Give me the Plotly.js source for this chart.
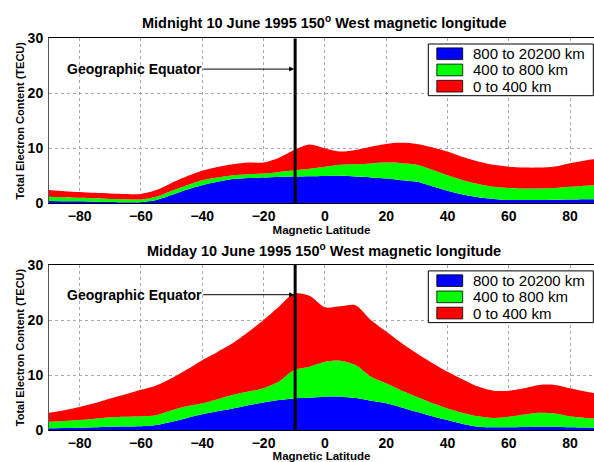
<!DOCTYPE html>
<html><head><meta charset="utf-8">
<script src="https://cdn.plot.ly/plotly-3.0.1.min.js"></script>
<style>body{margin:0;background:#fff}#c{width:594px;height:462px}</style>
</head><body><div id="c"></div>
<script>
const lat = [-90,-85,-80,-75,-70,-65,-60,-55,-50,-45,-40,-35,-30,-25,-20,-15,-10,-5,0,5,10,15,20,25,30,35,40,45,50,55,60,65,70,75,80,85,88];

// Midnight: cumulative layer tops (TECU)
const nightBlue  = [0.4,0.38,0.35,0.3,0.25,0.2,0.2,0.6,1.5,2.5,3.3,3.9,4.4,4.6,4.7,4.8,4.85,4.9,4.95,5.0,4.85,4.7,4.5,4.2,3.9,3.1,2.3,1.6,1.1,0.8,0.6,0.6,0.6,0.65,0.7,0.75,0.75];
const nightGreen = [1.2,1.1,1.0,0.9,0.8,0.75,0.7,1.2,2.3,3.3,4.2,4.7,5.1,5.3,5.4,5.7,6.0,6.3,6.65,7.0,7.1,7.25,7.4,7.3,7.0,6.1,5.1,4.2,3.5,3.0,2.8,2.7,2.7,2.8,3.0,3.2,3.3];
const nightRed   = [2.4,2.2,2.05,1.9,1.8,1.7,1.7,2.4,3.7,4.9,5.9,6.6,7.1,7.4,7.4,8.3,9.7,10.7,10.0,9.4,9.7,10.3,10.8,11.0,10.8,10.2,9.4,8.4,7.6,7.0,6.65,6.5,6.5,6.7,7.3,7.8,8.0];

// Midday: cumulative layer tops (TECU)
const dayBlue  = [0.3,0.35,0.4,0.5,0.6,0.65,0.7,0.9,1.5,2.2,2.85,3.4,3.9,4.5,5.0,5.45,5.75,5.85,6.05,6.05,5.8,5.3,4.85,4.1,3.3,2.5,1.8,1.1,0.6,0.5,0.5,0.55,0.6,0.6,0.5,0.45,0.4];
const dayGreen = [1.5,1.65,1.8,2.05,2.3,2.4,2.5,2.7,3.6,4.3,4.85,5.6,6.4,7.0,7.6,8.8,10.9,11.5,12.4,12.6,11.8,9.7,8.5,7.2,6.05,4.9,3.9,3.1,2.5,2.2,2.4,2.8,3.15,3.0,2.5,2.2,2.1];
const dayRed   = [3.15,3.6,4.2,4.9,5.75,6.5,7.3,8.1,9.4,11.0,12.7,14.2,15.8,17.8,20.0,22.4,24.8,24.4,22.3,22.5,22.7,20.0,17.9,15.8,13.9,12.2,10.6,9.2,7.9,7.15,7.15,7.6,8.2,8.2,7.6,7.0,6.7];

const layerNames = ['800 to 20200 km','400 to 800 km','0 to 400 km'];
const layerColors = ['#0000ff','#00ff00','#ff0000'];
const xTicks = [-80,-60,-40,-20,0,20,40,60,80];
const yTicks = [0,10,20,30];
const equatorLat = -9.7;
const titles = ['Midnight 10 June 1995 150<sup>o</sup> West magnetic longitude','Midday 10 June 1995 150<sup>o</sup> West magnetic longitude'];
const equatorLabel = 'Geographic Equator';

const W = 594, H = 462, ML = 49, MR = 0;
const FONT = 'Liberation Sans, Arial, sans-serif';
const px2x = p => (p - ML) / (W - ML - MR);
const py2y = p => 1 - p / H;

const traces = [];
function addSet(tops, xa, ya){
  tops.forEach((t,i)=>{
    traces.push({x:lat, y:t, xaxis:xa, yaxis:ya, type:'scatter', mode:'lines',
      name:layerNames[i], showlegend:false,
      line:{width:0, shape:'spline', smoothing:0.8, color:layerColors[i]},
      fill: i===0 ? 'tozeroy' : 'tonexty', fillcolor:layerColors[i],
      hoverinfo:'skip'});
  });
}
addSet([nightBlue,nightGreen,nightRed],'x','y');
addSet([dayBlue,dayGreen,dayRed],'x2','y2');

const tickFont = {family:FONT, size:14, color:'#000', weight:'bold'};
function xax(anchor){return {anchor:anchor, range:[-90,87.8], tickvals:xTicks, showgrid:true,
  gridcolor:'#aaaaaa', griddash:'dot', gridwidth:1, showline:true, linecolor:'#000', mirror:true,
  ticks:'', tickfont:tickFont, zeroline:false, fixedrange:true,
  title:{text:'Magnetic Latitude', font:{family:FONT,size:11.5,color:'#000',weight:'bold'}, standoff:2}};}
function yax(anchor, dom){return {anchor:anchor, domain:dom, range:[0,30], tickvals:yTicks, showgrid:true,
  gridcolor:'#aaaaaa', griddash:'dot', gridwidth:1, showline:true, linecolor:'#555',
  ticks:'', tickfont:tickFont, zeroline:false, ticklabelstandoff:2,
  title:{text:'Total Electron Content (TECU)', font:{family:FONT,size:11,color:'#000',weight:'bold'}, standoff:0}};}

const annFont = {family:FONT, size:14.5, color:'#000', weight:'bold'};
const shapes = [
  {type:'line', xref:'x', yref:'y', x0:equatorLat, x1:equatorLat, y0:0, y1:30, line:{color:'#000', width:3}},
  {type:'line', xref:'x2', yref:'y2', x0:equatorLat, x1:equatorLat, y0:0, y1:30, line:{color:'#000', width:3}}
];
const annotations = [
  {xref:'paper', yref:'paper', x:px2x(323.5), y:py2y(22.5), text:titles[0], showarrow:false, font:annFont, xanchor:'center', yanchor:'middle'},
  {xref:'paper', yref:'paper', x:px2x(323.5), y:py2y(250), text:titles[1], showarrow:false, font:annFont, xanchor:'center', yanchor:'middle'},
  {xref:'x', yref:'y', x:equatorLat, y:24.4, axref:'x', ayref:'y', ax:-62.2, ay:24.4, text:equatorLabel,
    showarrow:true, arrowhead:2, arrowsize:1, arrowwidth:1, arrowcolor:'#000', font:{family:FONT,size:14,color:'#000',weight:'bold'}, standoff:1},
  {xref:'x2', yref:'y2', x:equatorLat, y:24.6, axref:'x2', ayref:'y2', ax:-62.2, ay:24.6, text:equatorLabel,
    showarrow:true, arrowhead:2, arrowsize:1, arrowwidth:1, arrowcolor:'#000', font:{family:FONT,size:14,color:'#000',weight:'bold'}, standoff:1}
];

// custom legend boxes (layout only)
function addLegend(top){
  shapes.push({type:'rect', xref:'paper', yref:'paper', x0:px2x(428.3), x1:px2x(593.3), y0:py2y(top), y1:py2y(top+51.7),
    line:{color:'#000', width:1}, fillcolor:'#fff', layer:'above'});
  [0,1,2].forEach(i=>{
    const sTop = top + 3.9 + i*16.2;
    shapes.push({type:'rect', xref:'paper', yref:'paper', x0:px2x(436.8), x1:px2x(462.7), y0:py2y(sTop), y1:py2y(sTop+11.7),
      line:{color:'#000', width:0.8}, fillcolor:layerColors[i], layer:'above'});
    annotations.push({xref:'paper', yref:'paper', x:px2x(470.5), y:py2y(sTop+5.9), text:layerNames[i], showarrow:false,
      xanchor:'left', yanchor:'middle', font:{family:FONT, size:15, color:'#000'}});
  });
}
addLegend(44);
addLegend(270.9);

const layout = {
  width:W, height:H, paper_bgcolor:'#fff', plot_bgcolor:'#fff',
  margin:{l:ML, r:MR, t:0, b:0}, showlegend:false,
  xaxis: xax('y'), yaxis: yax('x',[py2y(203.3), py2y(38.3)]),
  xaxis2: xax('y2'), yaxis2: yax('x2',[py2y(430), py2y(265)]),
  shapes: shapes, annotations: annotations
};
Plotly.newPlot('c', traces, layout, {displayModeBar:false, staticPlot:true});
</script></body></html>
